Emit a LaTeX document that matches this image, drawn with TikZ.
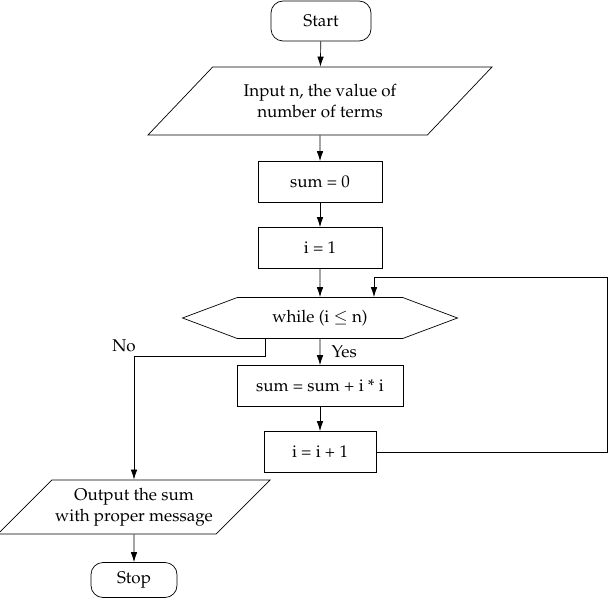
\documentclass[tikz,border=0pt]{standalone}
\usepackage[T1]{fontenc}
\usepackage{mathpazo}
\usetikzlibrary{shapes.geometric,shapes.symbols,arrows.meta}

\tikzset{
  every node/.style={font=\fontsize{17}{21}\selectfont},
  term/.style={draw,rectangle,rounded corners=12pt,minimum width=100pt,minimum height=40pt},
  io/.style={draw,trapezium,trapezium left angle=45,trapezium right angle=135,
    trapezium stretches body,align=center},
  proc/.style={draw,rectangle,minimum height=41pt},
  cond/.style={draw,signal,signal to=east and west,signal pointer angle=41,
    minimum height=41pt,minimum width=275pt},
  flow/.style={-{Latex[length=10pt,width=6.5pt]}},
}

\begin{document}
\begin{tikzpicture}[x=1pt,y=-1pt,line width=0.7pt]
  \useasboundingbox (0,0) rectangle (608,599);
  \node[term] (start) at (321,21) {Start};
  \node[io,inner ysep=15.5pt,minimum width=344pt,minimum height=68pt] (input) at (320,101)
    {Input n, the value of\\number of terms};
  \node[proc,minimum width=124pt] (sum0) at (320,182) {sum = 0};
  \node[proc,minimum width=124pt] (i1) at (320,248) {i = 1};
  \node[cond] (while) at (320,318) {while (i $\leq$ n)};
  \node[proc,minimum width=166pt] (body) at (320,386) {sum = sum + i * i};
  \node[proc,minimum width=112pt] (incr) at (320,452) {i = i + 1};
  \node[io,inner ysep=8pt,minimum width=261pt,minimum height=53pt] (output) at (134,507)
    {Output the sum\\with proper message};
  \node[term,minimum width=86pt,minimum height=35pt] (stop) at (134,580) {Stop};
  \node (no) at (124,346) {No};
  \coordinate (back) at (607,277);

  \draw[flow] (start) -- (input);
  \draw[flow] (input) -- (sum0);
  \draw[flow] (sum0) -- (i1);
  \draw[flow] (i1) -- (while);
  \draw[flow] (while) -- (body) node[pos=0.5,right=8pt] {Yes};
  \draw[flow] (body) -- (incr);
  \draw[flow] (incr.east) -| (back) -| ([xshift=54pt]while.north);
  \draw[flow] ([xshift=-55pt]while.south) -- ++(0,17) -| (output.north);
  \draw[flow] (output) -- (stop);
\end{tikzpicture}
\end{document}
